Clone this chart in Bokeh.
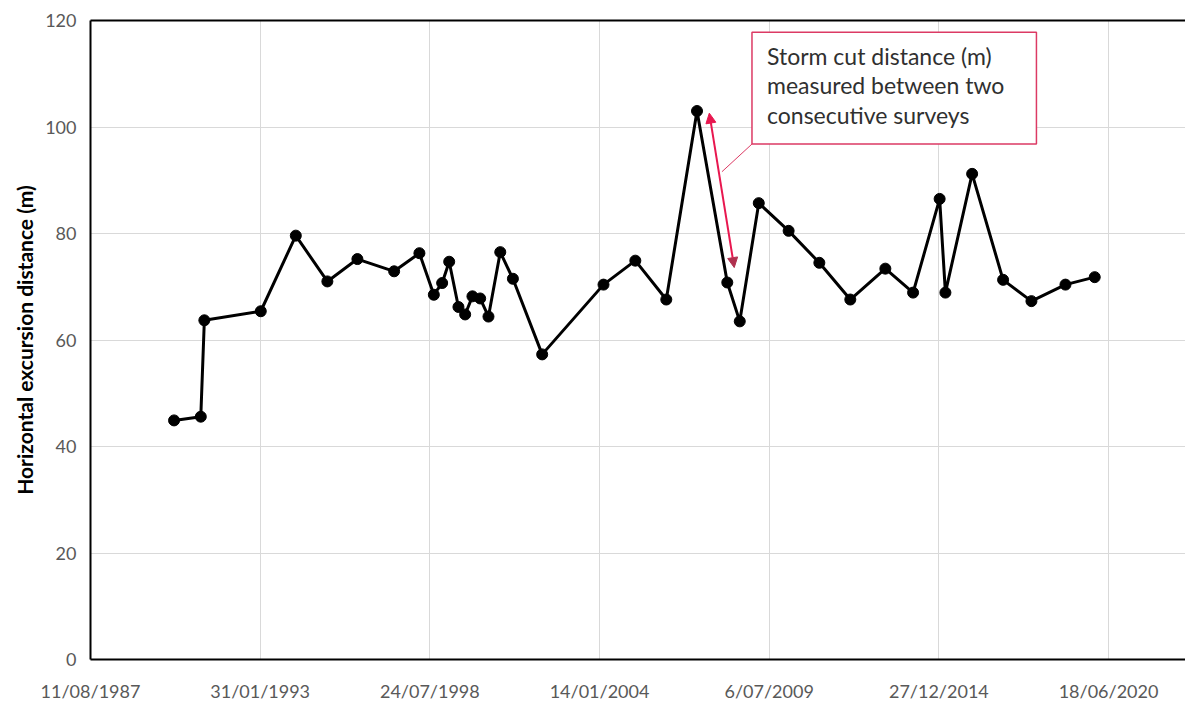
import pandas as pd
from bokeh.plotting import figure
from bokeh.models import (Range1d, FixedTicker, LinearAxis, BoxAnnotation, Label,
                          Arrow, NormalHead, DatetimeTickFormatter)
from bokeh.embed import file_html
from bokeh.resources import INLINE

# ---- data ----
survey_dates = [
    "1990-04-22", "1991-03-03", "1991-04-14", "1993-02-07", "1994-03-27",
    "1995-04-03", "1996-03-22", "1997-05-29", "1998-03-23", "1998-09-09",
    "1998-12-16", "1999-03-09", "1999-06-26", "1999-09-13", "1999-12-08",
    "2000-03-08", "2000-06-14", "2000-10-31", "2001-03-29", "2002-03-09",
    "2004-03-01", "2005-03-11", "2006-03-11", "2007-03-08", "2008-02-28",
    "2008-07-24", "2009-03-05", "2010-02-20", "2011-02-17", "2012-02-17",
    "2013-04-05", "2014-02-26", "2015-01-05", "2015-03-14", "2016-01-23",
    "2017-01-22", "2017-12-22", "2019-01-27", "2020-01-07",
]
excursion_m = [
    44.9, 45.6, 63.7, 65.4, 79.6,
    71.0, 75.2, 72.9, 76.3, 68.5,
    70.7, 74.7, 66.2, 64.8, 68.2,
    67.8, 64.4, 76.5, 71.5, 57.3,
    70.4, 74.9, 67.6, 103.0, 70.8,
    63.5, 85.7, 80.5, 74.5, 67.6,
    73.4, 68.9, 86.5, 68.9, 91.2,
    71.3, 67.3, 70.4, 71.8,
]
tick_dates = ["1987-08-11", "1993-01-31", "1998-07-24", "2004-01-14",
              "2009-07-06", "2014-12-27", "2020-06-18"]
tick_labels = ["11/08/1987", "31/01/1993", "24/07/1998", "14/01/2004",
               "6/07/2009", "27/12/2014", "18/06/2020"]
x_start, x_end = "1987-08-11", "2022-12-12"
y_ticks = [0, 20, 40, 60, 80, 100, 120]

note_lines = ["Storm cut distance (m)", "measured between two", "consecutive surveys"]
note_box = dict(left="2008-12-15", right="2018-02-19", top=117.8, bottom=96.8)
note_text_x = "2009-06-10"
note_text_y = [113.3, 107.8, 102.3]
leader_end = ("2007-12-27", 91.6)
arrow_start = ("2007-07-31", 102.6)
arrow_end = ("2008-05-20", 73.6)


def ms(d):
    return pd.Timestamp(d).value / 1e6


x = pd.to_datetime(survey_dates)

p = figure(width=1185, height=704, x_axis_type="datetime",
           x_range=Range1d(pd.Timestamp(x_start), pd.Timestamp(x_end)),
           y_range=Range1d(0, 120),
           output_backend="svg", toolbar_location=None,
           min_border_left=90, min_border_right=0, min_border_top=20, min_border_bottom=43)
p.outline_line_color = None
p.background_fill_color = "white"
p.border_fill_color = "white"

tick_ms = [ms(d) for d in tick_dates]
p.xaxis.ticker = FixedTicker(ticks=tick_ms)
p.xaxis.formatter = DatetimeTickFormatter(days="%d/%m/%Y", months="%d/%m/%Y", years="%d/%m/%Y")
p.xaxis.major_label_overrides = {t: l for t, l in zip(tick_ms, tick_labels)}
p.yaxis.ticker = FixedTicker(ticks=y_ticks)

for ax in (p.xaxis[0], p.yaxis[0]):
    ax.axis_line_color = "black"
    ax.axis_line_width = 2
    ax.major_tick_in = 0
    ax.major_tick_out = 0
    ax.minor_tick_in = 0
    ax.minor_tick_out = 0
    ax.major_label_text_font = "Lato"
    ax.major_label_text_font_size = "18px"
    ax.major_label_text_color = "#595959"

p.xaxis.major_label_standoff = 20
p.yaxis.major_label_standoff = 14
p.yaxis.axis_label = "Horizontal excursion distance (m)"
p.yaxis.axis_label_text_font = "Lato"
p.yaxis.axis_label_text_font_style = "bold"
p.yaxis.axis_label_text_font_size = "21px"
p.yaxis.axis_label_text_color = "black"
p.yaxis.axis_label_standoff = 5

top_axis = LinearAxis(ticker=FixedTicker(ticks=[]), major_label_text_font_size="0px",
                      major_tick_in=0, major_tick_out=0, minor_tick_in=0, minor_tick_out=0,
                      major_label_standoff=0, axis_line_color="black", axis_line_width=2)
p.add_layout(top_axis, "above")

p.xgrid.ticker = FixedTicker(ticks=tick_ms)
p.ygrid.ticker = FixedTicker(ticks=y_ticks)
p.xgrid.grid_line_color = "#d9d9d9"
p.ygrid.grid_line_color = "#d9d9d9"
p.xgrid.grid_line_width = 1
p.ygrid.grid_line_width = 1

p.line(x, excursion_m, line_color="black", line_width=3)
p.scatter(x, excursion_m, size=11, fill_color="black", line_color="black")

# annotation
crimson = "#DC3A64"
p.segment(x0=[ms(note_box["left"])], y0=[note_box["bottom"]],
          x1=[ms(leader_end[0])], y1=[leader_end[1]], line_color=crimson, line_width=1)

box = BoxAnnotation(left=ms(note_box["left"]), right=ms(note_box["right"]),
                    top=note_box["top"], bottom=note_box["bottom"],
                    fill_color="white", fill_alpha=1.0, line_color=crimson, line_width=1.5,
                    line_alpha=1.0)
p.add_layout(box)
for txt, yy in zip(note_lines, note_text_y):
    p.add_layout(Label(x=ms(note_text_x), y=yy, text=txt, text_baseline="middle",
                       text_font="Lato", text_font_size="23px", text_color="#303030"))

arr = Arrow(x_start=ms(arrow_start[0]), y_start=arrow_start[1],
            x_end=ms(arrow_end[0]), y_end=arrow_end[1],
            line_color="#E8174F", line_width=2,
            start=NormalHead(size=10, fill_color="#E8174F", line_color="#E8174F"),
            end=NormalHead(size=10, fill_color="#B0304F", line_color="#B0304F"))
p.add_layout(arr)

open("out.html", "w").write(file_html(p, INLINE))
